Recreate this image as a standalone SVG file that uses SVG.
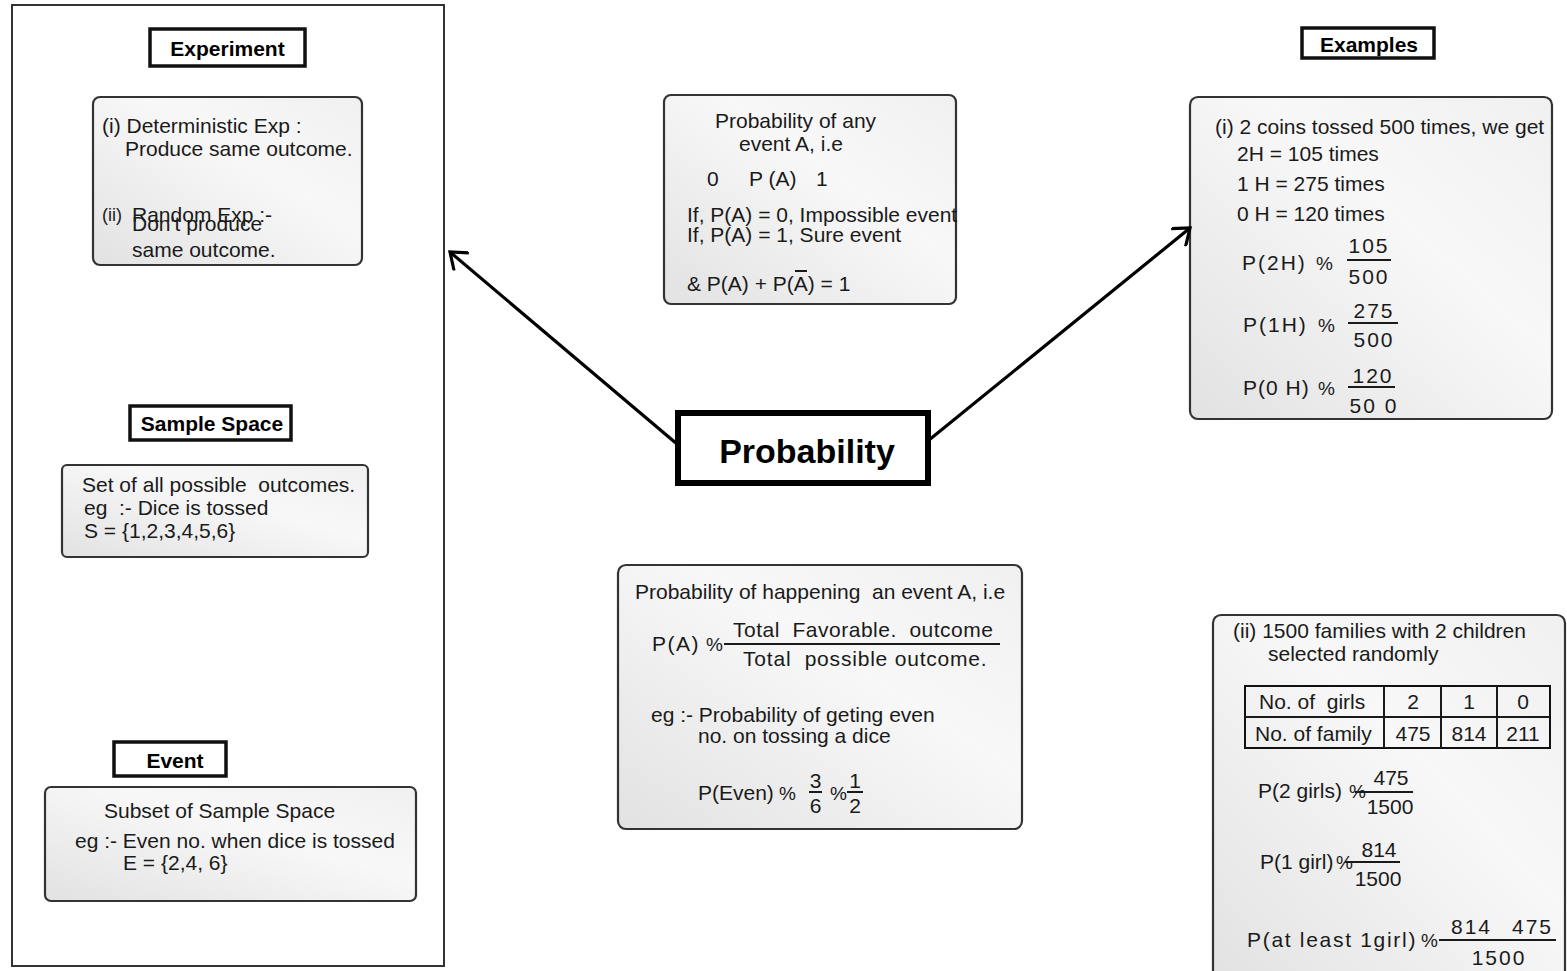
<svg xmlns="http://www.w3.org/2000/svg" width="1567" height="971" viewBox="0 0 1567 971">
<defs>
<linearGradient id="g" x1="0" y1="1" x2="1" y2="0">
<stop offset="0" stop-color="#e2e2e2"/>
<stop offset="0.6" stop-color="#f8f8f8"/>
<stop offset="1" stop-color="#f0f0f0"/>
</linearGradient>
<marker id="ah" markerUnits="userSpaceOnUse" markerWidth="24" markerHeight="24" viewBox="0 0 24 24" refX="20" refY="12" orient="auto">
<path d="M5,0.5 L20,12 L5,23.5" fill="none" stroke="#000" stroke-width="3.2"/>
</marker>
</defs>
<style>
text{font-family:"Liberation Sans",Arial,Helvetica,sans-serif;font-size:21px;fill:#1a1a1a;white-space:pre}
.b{font-weight:bold;fill:#000}
.box{fill:url(#g);stroke:#333;stroke-width:2.2}
.hdr{fill:#fff;stroke:#111;stroke-width:3.5}
.ln{stroke:#1a1a1a;stroke-width:2;fill:none}
.sp{letter-spacing:2px}
.c{text-anchor:middle}
.pc{font-size:19px}
</style>
<rect width="1567" height="971" fill="#fff"/>

<g id="left-panel">
<rect x="12" y="5" width="432" height="961" fill="#fff" stroke="#333" stroke-width="2"/>
</g>

<g id="experiment-header">
<rect class="hdr" x="150" y="29" width="155" height="37"/>
<text class="b c" x="227.5" y="56">Experiment</text>
</g>
<g id="experiment-box">
<rect class="box" x="93" y="97" width="269" height="168" rx="7"/>
<text x="102" y="133">(i) Deterministic Exp :</text>
<text x="125" y="156">Produce same outcome.</text>
<text x="102" y="221" style="font-size:18px">(ii)</text>
<text x="132" y="222">Random Exp :-</text>
<text x="132" y="231">Don't produce</text>
<text x="132" y="257">same outcome.</text>
</g>

<g id="sample-space-header">
<rect class="hdr" x="130" y="406" width="161" height="34"/>
<text class="b c" x="212" y="431">Sample Space</text>
</g>
<g id="sample-space-box">
<rect class="box" x="62" y="465" width="306" height="92" rx="5"/>
<text x="82" y="492">Set of all possible  outcomes.</text>
<text x="84" y="515">eg  :- Dice is tossed</text>
<text x="84" y="538">S = {1,2,3,4,5,6}</text>
</g>

<g id="event-header">
<rect class="hdr" x="114" y="742" width="112" height="34"/>
<text class="b c" x="175" y="768">Event</text>
</g>
<g id="event-box">
<rect class="box" x="45" y="787" width="371" height="114" rx="6"/>
<text x="104" y="818">Subset of Sample Space</text>
<text x="75" y="848">eg :- Even no. when dice is tossed</text>
<text x="123" y="870">E = {2,4, 6}</text>
</g>

<g id="range-box">
<rect class="box" x="664" y="95" width="292" height="209" rx="7"/>
<text x="715" y="128">Probability of any</text>
<text x="739" y="151">event A, i.e</text>
<text x="707" y="186">0</text>
<text x="749" y="186">P (A)</text>
<text x="816" y="186">1</text>
<text x="687" y="222">If, P(A) = 0, Impossible event</text>
<text x="687" y="242">If, P(A) = 1, Sure event</text>
<text x="687" y="291">&amp; P(A) + P(A) = 1</text>
<line class="ln" x1="795" y1="271" x2="807" y2="271"/>
</g>

<g id="probability">
<rect x="678" y="413" width="250" height="70" fill="#fff" stroke="#000" stroke-width="6"/>
<text class="b c" x="807" y="463" style="font-size:34px">Probability</text>
</g>

<g id="definition-box">
<rect class="box" x="618" y="565" width="404" height="264" rx="8"/>
<text x="635" y="599">Probability of happening  an event A, i.e</text>
<text x="652" y="651" style="letter-spacing:1.5px">P(A)</text>
<text class="pc" x="706" y="651">%</text>
<text x="733" y="637" style="letter-spacing:0.5px">Total  Favorable.  outcome</text>
<line class="ln" x1="724" y1="644" x2="1000" y2="644"/>
<text x="743" y="666" style="letter-spacing:0.8px">Total  possible outcome.</text>
<text x="651" y="722">eg :- Probability of geting even</text>
<text x="698" y="743">no. on tossing a dice</text>
<text x="698" y="800">P(Even)</text>
<text class="pc" x="779" y="800">%</text>
<text class="c" x="815.5" y="788">3</text>
<line class="ln" x1="809" y1="792" x2="822" y2="792"/>
<text class="c" x="815.5" y="813">6</text>
<text class="pc" x="830" y="800">%</text>
<text class="c" x="855" y="788">1</text>
<line class="ln" x1="847" y1="792" x2="863" y2="792"/>
<text class="c" x="855" y="813">2</text>
</g>

<g id="examples-header">
<rect class="hdr" x="1302" y="28" width="132" height="30"/>
<text class="b c" x="1369" y="52">Examples</text>
</g>
<g id="coins-box">
<rect class="box" x="1190" y="97" width="362" height="322" rx="8"/>
<text x="1215" y="134">(i) 2 coins tossed 500 times, we get</text>
<text x="1237" y="161">2H = 105 times</text>
<text x="1237" y="191">1 H = 275 times</text>
<text x="1237" y="221">0 H = 120 times</text>
<text class="sp" x="1242" y="270">P(2H)</text>
<text class="pc" x="1316" y="270">%</text>
<text class="sp c" x="1369" y="253">105</text>
<line class="ln" x1="1347" y1="260" x2="1391" y2="260"/>
<text class="sp c" x="1369" y="284">500</text>
<text class="sp" x="1243" y="332">P(1H)</text>
<text class="pc" x="1318" y="332">%</text>
<text class="sp c" x="1374" y="318">275</text>
<line class="ln" x1="1348" y1="323" x2="1398" y2="323"/>
<text class="sp c" x="1374" y="347">500</text>
<text class="sp" x="1243" y="395" style="letter-spacing:1px">P(0 H)</text>
<text class="pc" x="1318" y="395">%</text>
<text class="sp c" x="1373" y="383">120</text>
<line class="ln" x1="1348" y1="387" x2="1395" y2="387"/>
<text class="sp c" x="1374" y="413">50 0</text>
</g>

<g id="families-box">
<rect class="box" x="1213" y="615" width="352" height="370" rx="8"/>
<text x="1233" y="638">(ii) 1500 families with 2 children</text>
<text x="1268" y="661">selected randomly</text>
<rect x="1245" y="686" width="305" height="62" fill="none" stroke="#111" stroke-width="2"/>
<line class="ln" x1="1245" y1="717" x2="1550" y2="717"/>
<line class="ln" x1="1384" y1="686" x2="1384" y2="748"/>
<line class="ln" x1="1441" y1="686" x2="1441" y2="748"/>
<line class="ln" x1="1497" y1="686" x2="1497" y2="748"/>
<text x="1259" y="709">No. of  girls</text>
<text class="c" x="1413" y="709">2</text>
<text class="c" x="1469" y="709">1</text>
<text class="c" x="1523" y="709">0</text>
<text x="1255" y="741">No. of family</text>
<text class="c" x="1413" y="741">475</text>
<text class="c" x="1469" y="741">814</text>
<text class="c" x="1523" y="741">211</text>
<text x="1258" y="798">P(2 girls)</text>
<text class="pc" x="1349" y="798">%</text>
<text class="c" x="1391" y="785">475</text>
<line class="ln" x1="1355" y1="792" x2="1413" y2="792"/>
<text class="c" x="1390" y="814">1500</text>
<text x="1260" y="869">P(1 girl)</text>
<text class="pc" x="1336" y="869">%</text>
<text class="c" x="1379" y="857">814</text>
<line class="ln" x1="1345" y1="862" x2="1400" y2="862"/>
<text class="c" x="1378" y="886">1500</text>
<text x="1247" y="947" style="letter-spacing:1.7px">P(at least 1girl)</text>
<text class="pc" x="1421" y="947">%</text>
<text x="1451" y="934" style="letter-spacing:2px">814</text>
<text x="1512" y="934" style="letter-spacing:2px">475</text>
<line class="ln" x1="1439" y1="940" x2="1556" y2="940"/>
<text class="c" x="1499" y="965" style="letter-spacing:2px">1500</text>
</g>

<g id="connectors">
<line x1="677" y1="444" x2="450" y2="252" stroke="#000" stroke-width="3.2" marker-end="url(#ah)"/>
<line x1="929" y1="440" x2="1190" y2="228" stroke="#000" stroke-width="3.2" marker-end="url(#ah)"/>
</g>
</svg>
